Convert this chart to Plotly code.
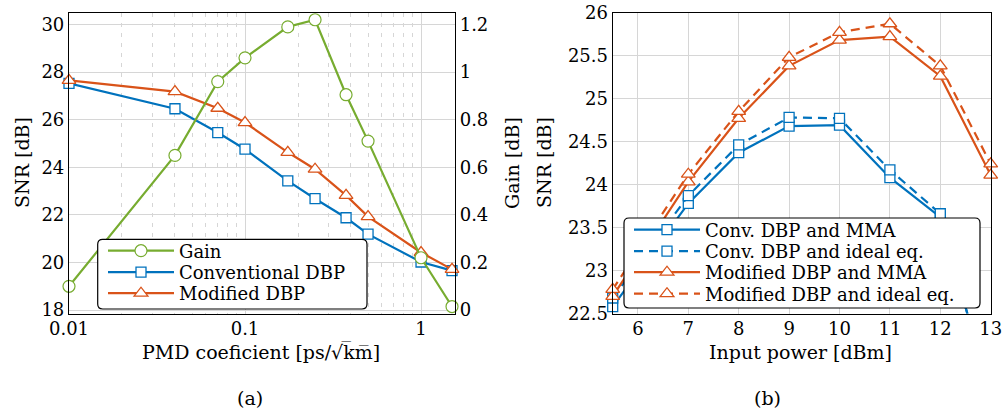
import plotly.graph_objects as go

# ---------------- data (a) ----------------
pmd = [0.01, 0.04, 0.07, 0.1, 0.175, 0.25, 0.375, 0.5, 1.0, 1.5]
gain = [0.10, 0.65, 0.96, 1.06, 1.19, 1.22, 0.905, 0.71, 0.22, 0.015]
snr_conv = [27.53, 26.46, 25.46, 24.76, 23.43, 22.68, 21.88, 21.19, 20.02, 19.66]
snr_mod = [27.65, 27.18, 26.48, 25.88, 24.63, 23.92, 22.82, 21.93, 20.42, 19.71]
pmd_ticks = [0.01, 0.1, 1]
pmd_ticktext = ["0.01", "0.1", "1"]
snr_ticks_a = [18, 20, 22, 24, 26, 28, 30]
gain_ticks = [0, 0.2, 0.4, 0.6, 0.8, 1.0, 1.2]
gain_ticktext = ["0", "0.2", "0.4", "0.6", "0.8", "1", "1.2"]

# ---------------- data (b) ----------------
power_conv = [5.5, 7, 8, 9, 10, 11, 12, 12.55]
conv_mma = [22.58, 23.78, 24.37, 24.68, 24.69, 24.08, 23.62, 22.47]
conv_ideal = [22.68, 23.87, 24.46, 24.78, 24.77, 24.17, 23.66, 22.47]
power_mod = [5.5, 7, 8, 9, 10, 11, 12, 13]
mod_mma = [22.70, 24.03, 24.77, 25.38, 25.68, 25.72, 25.26, 24.11]
mod_ideal = [22.78, 24.12, 24.85, 25.48, 25.77, 25.87, 25.38, 24.24]
power_ticks = [6, 7, 8, 9, 10, 11, 12, 13]
snr_ticks_b = [22.5, 23, 23.5, 24, 24.5, 25, 25.5, 26]
snr_ticktext_b = ["22.5", "23", "23.5", "24", "24.5", "25", "25.5", "26"]

BLUE = "#0072BD"
RED = "#D95319"
GREEN = "#77AC30"
GRID = "#d6d6d6"
FONT = "DejaVu Serif, Liberation Serif, serif"
OFF = 0  # page body margin removed by post_script
W, H = 1006, 411


def px(x):
    return (x - OFF) / W


def py(y):
    return 1 - (y - OFF) / H


fig = go.Figure()

fig.add_trace(go.Scatter(
    x=pmd, y=snr_conv, name="Conventional DBP", mode="lines+markers",
    line=dict(color=BLUE, width=2.2),
    marker=dict(symbol="square", size=10, color="white", line=dict(color=BLUE, width=1.3)),
    xaxis="x", yaxis="y", cliponaxis=False, legend="legend2"))
fig.add_trace(go.Scatter(
    x=pmd, y=snr_mod, name="Modified DBP", mode="lines+markers",
    line=dict(color=RED, width=2.2),
    marker=dict(symbol="triangle-up", size=12, color="white", line=dict(color=RED, width=1.3)),
    xaxis="x", yaxis="y", cliponaxis=False, legend="legend3"))
fig.add_trace(go.Scatter(
    x=pmd, y=gain, name="Gain", mode="lines+markers",
    line=dict(color=GREEN, width=2.2),
    marker=dict(symbol="circle", size=12, color="white", line=dict(color=GREEN, width=1.2)),
    xaxis="x", yaxis="y2", cliponaxis=False, legend="legend"))

# (b)
fig.add_trace(go.Scatter(
    x=power_conv, y=conv_mma, name="Conv. DBP and MMA", mode="lines+markers",
    line=dict(color=BLUE, width=2.2),
    marker=dict(symbol="square", size=10, color="white", line=dict(color=BLUE, width=1.3)),
    xaxis="x2", yaxis="y3", cliponaxis=False, legend="legend4"))
fig.add_trace(go.Scatter(
    x=power_conv, y=conv_ideal, name="Conv. DBP and ideal eq.", mode="lines+markers",
    line=dict(color=BLUE, width=2.2, dash="9px,6px"),
    marker=dict(symbol="square", size=10, color="white", line=dict(color=BLUE, width=1.3)),
    xaxis="x2", yaxis="y3", cliponaxis=False, legend="legend5"))
fig.add_trace(go.Scatter(
    x=power_mod, y=mod_mma, name="Modified DBP and MMA", mode="lines+markers",
    line=dict(color=RED, width=2.2),
    marker=dict(symbol="triangle-up", size=12, color="white", line=dict(color=RED, width=1.3)),
    xaxis="x2", yaxis="y3", cliponaxis=False, legend="legend6"))
fig.add_trace(go.Scatter(
    x=power_mod, y=mod_ideal, name="Modified DBP and ideal eq.", mode="lines+markers",
    line=dict(color=RED, width=2.2, dash="9px,6px"),
    marker=dict(symbol="triangle-up", size=12, color="white", line=dict(color=RED, width=1.3)),
    xaxis="x2", yaxis="y3", cliponaxis=False, legend="legend7"))

tickfont = dict(family=FONT, size=18, color="black")
ydom = [py(313.5), py(12.5)]

minor_vals = [m * d for d in (0.01, 0.1) for m in range(2, 10)]

common_axis = dict(tickfont=tickfont, showline=True, linecolor="black", linewidth=1.2,
                   ticks="", zeroline=False, automargin=False, ticklabeloverflow="allow")

fig.update_layout(
    width=W, height=H,
    margin=dict(l=0, r=0, t=0, b=0, pad=0, autoexpand=False),
    paper_bgcolor="white", plot_bgcolor="white",
    font=dict(family=FONT, size=18, color="black"),
    xaxis=dict(type="log", domain=[px(69), px(455)], range=[-2, 0.193],
               tickvals=pmd_ticks, ticktext=pmd_ticktext, mirror=True,
               showgrid=True, gridcolor=GRID, gridwidth=1,
               minor=dict(tickvals=minor_vals, showgrid=True, gridcolor=GRID,
                          griddash="4px,6px", gridwidth=1, ticks=""),
               anchor="y", ticklabelstandoff=-1, **common_axis),
    yaxis=dict(domain=ydom, range=[17.857, 30.504], tickvals=snr_ticks_a, mirror=True,
               showgrid=True, gridcolor=GRID, anchor="x", ticklabelstandoff=0, **common_axis),
    yaxis2=dict(overlaying="y", side="right", anchor="x",
                range=[-0.0143, 1.2504], tickvals=gain_ticks, ticktext=gain_ticktext,
                showgrid=False, ticklabelstandoff=0, **common_axis),
    xaxis2=dict(domain=[px(612.7), px(990.7)], range=[5.5, 13], tickvals=power_ticks,
                mirror=True, showgrid=True, gridcolor=GRID,
                anchor="y3", ticklabelstandoff=-1, **common_axis),
    yaxis3=dict(domain=ydom, range=[22.4998, 26.0008], tickvals=snr_ticks_b,
                ticktext=snr_ticktext_b, mirror=True, showgrid=True, gridcolor=GRID,
                anchor="x2", ticklabelstandoff=0, **common_axis),
    showlegend=True,
)

leg_font = dict(family=FONT, size=18, color="black")
leg_rows = {
    "legend": (103, 251), "legend2": (103, 272.5), "legend3": (103, 293.5),
    "legend4": (629, 230), "legend5": (629, 251.5), "legend6": (629, 272.5),
    "legend7": (629, 294),
}
for key, (lx, ly) in leg_rows.items():
    fig.update_layout({key: dict(x=px(lx), y=py(ly), xanchor="left", yanchor="middle",
                                 bgcolor="rgba(0,0,0,0)", borderwidth=0, itemwidth=66,
                                 font=leg_font)})


def rounded(x0, y0, x1, y1, r=5):
    X0, X1 = px(x0), px(x1)
    Y0, Y1 = py(y0), py(y1)
    rx, ry = r / W, r / H
    return (f"M {X0+rx},{Y0} L {X1-rx},{Y0} Q {X1},{Y0} {X1},{Y0-ry} "
            f"L {X1},{Y1+ry} Q {X1},{Y1} {X1-rx},{Y1} L {X0+rx},{Y1} "
            f"Q {X0},{Y1} {X0},{Y1+ry} L {X0},{Y0-ry} Q {X0},{Y0} {X0+rx},{Y0} Z")


fig.add_shape(type="path", path=rounded(97.7, 239.3, 367, 309), xref="paper", yref="paper",
              line=dict(color="black", width=1.2), fillcolor="white", layer="above")
fig.add_shape(type="path", path=rounded(624, 218, 980, 308), xref="paper", yref="paper",
              line=dict(color="black", width=1.2), fillcolor="white", layer="above")

ann_font = dict(family=FONT, size=19, color="black")
annots = [
    dict(x=px(22), y=py(163), text="SNR [dB]", textangle=-90),
    dict(x=px(512), y=py(163), text="Gain [dB]", textangle=-90),
    dict(x=px(544), y=py(163), text="SNR [dB]", textangle=-90),
    dict(x=px(261), y=py(352), text="PMD coeficient [ps/\u221ak\u0305m\u0305]"),
    dict(x=px(800), y=py(352), text="Input power [dBm]"),
    dict(x=px(250), y=py(398), text="(a)"),
    dict(x=px(767), y=py(398), text="(b)"),
]
for a in annots:
    fig.add_annotation(xref="paper", yref="paper", showarrow=False,
                       xanchor="center", yanchor="middle", font=ann_font, **a)

fig.write_html("out.html", config={"displayModeBar": False},
               post_script="document.body.style.margin='0';document.body.style.overflow='hidden';")
